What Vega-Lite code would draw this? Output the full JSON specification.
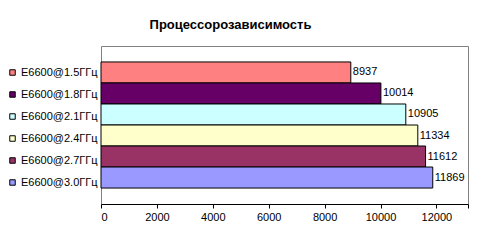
{
  "$schema": "https://vega.github.io/schema/vega-lite/v6.json",
  "width": 367,
  "height": 158,
  "autosize": {"type": "none"},
  "padding": {"left": 101, "top": 46, "right": 29, "bottom": 39},
  "background": "white",
  "title": {
    "text": "Процессорозависимость",
    "font": "Liberation Sans",
    "fontSize": 13,
    "fontWeight": "bold",
    "color": "black",
    "anchor": "middle",
    "dx": -54,
    "offset": 14
  },
  "data": {
    "values": [
      {"cpu": "E6600@1.5ГГц", "score": 8937},
      {"cpu": "E6600@1.8ГГц", "score": 10014},
      {"cpu": "E6600@2.1ГГц", "score": 10905},
      {"cpu": "E6600@2.4ГГц", "score": 11334},
      {"cpu": "E6600@2.7ГГц", "score": 11612},
      {"cpu": "E6600@3.0ГГц", "score": 11869}
    ]
  },
  "encoding": {
    "y": {
      "field": "cpu",
      "type": "nominal",
      "sort": "ascending",
      "scale": {"paddingInner": 0, "paddingOuter": 0.76},
      "axis": null
    },
    "x": {
      "field": "score",
      "type": "quantitative",
      "scale": {"domain": [0, 13130], "nice": false, "zero": true},
      "axis": {
        "title": null,
        "values": [0, 2000, 4000, 6000, 8000, 10000, 12000, 13130],
        "format": "d",
        "labelExpr": "datum.value > 12000 ? '' : datum.label",
        "grid": false,
        "domainColor": "black",
        "tickColor": "black",
        "tickSize": 4,
        "labelFont": "Liberation Sans",
        "labelFontSize": 11,
        "labelColor": "black",
        "labelPadding": 3
      }
    }
  },
  "layer": [
    {
      "mark": {"type": "bar", "stroke": "black", "strokeWidth": 1},
      "encoding": {
        "color": {
          "field": "cpu",
          "type": "nominal",
          "scale": {
            "range": ["#FF8080", "#660066", "#CCFFFF", "#FFFFCC", "#993366", "#9999FF"]
          },
          "legend": {
            "title": null,
            "orient": "none",
            "legendX": -94,
            "legendY": 21,
            "symbolType": "square",
            "symbolSize": 30,
            "symbolStrokeColor": "black",
            "symbolStrokeWidth": 1,
            "labelFont": "Liberation Sans",
            "labelFontSize": 11,
            "labelColor": "black",
            "rowPadding": 10,
            "labelOffset": 3
          }
        }
      }
    },
    {
      "mark": {
        "type": "text",
        "align": "left",
        "dx": 2,
        "font": "Liberation Sans",
        "fontSize": 11,
        "color": "black"
      },
      "encoding": {"text": {"field": "score", "type": "quantitative", "format": "d"}}
    }
  ],
  "config": {
    "view": {"stroke": "#808080", "strokeWidth": 1}
  }
}
